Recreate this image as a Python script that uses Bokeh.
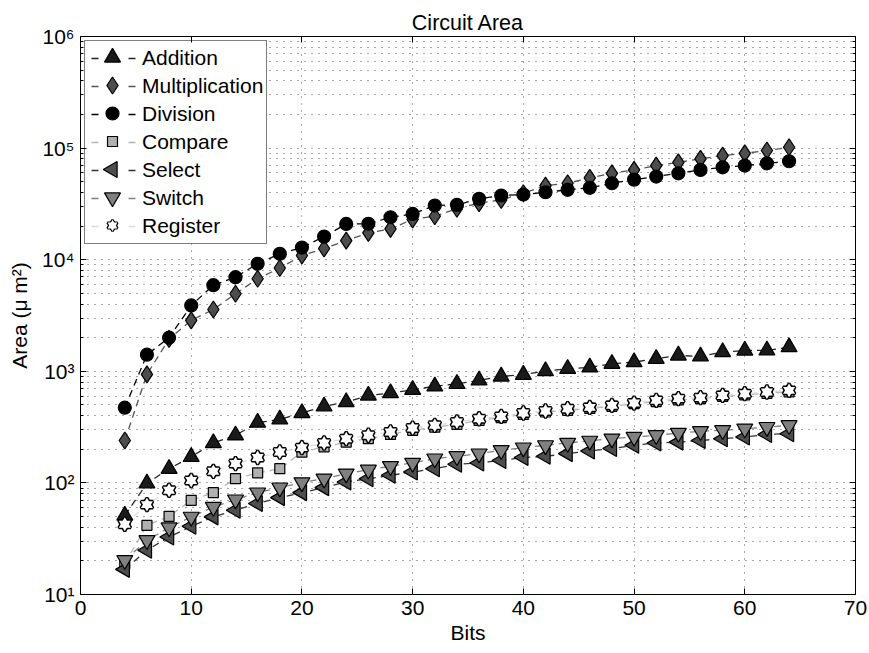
import math
from bokeh.plotting import figure
from bokeh.models import (Range1d, FixedTicker, CustomJSTickFormatter, LinearAxis,
                          LogAxis, Legend, LegendItem)
from bokeh.embed import file_html
from bokeh.resources import INLINE

# ---------------- data ----------------
bits = list(range(4, 65, 2))

addition = [51, 99, 134, 171, 228, 267, 347, 371, 423, 485, 530, 608, 638, 684, 733,
            774, 829, 900, 933, 1005, 1055, 1085, 1170, 1209, 1296, 1388, 1360, 1486,
            1538, 1540, 1648]
multiplication = [240, 938, 1950, 2860, 3580, 4950, 6750, 8420, 10900, 12600, 14800,
                  17400, 18900, 23000, 24500, 28600, 32100, 34400, 39400, 46100, 48400,
                  54100, 59400, 63800, 69700, 74600, 80000, 85700, 89800, 95100, 101700]
division = [472, 1409, 2000, 3890, 5910, 6970, 9200, 11300, 12850, 16100, 20900, 21000,
            24000, 25700, 30600, 31000, 35100, 37600, 38400, 40200, 42300, 44100, 48400,
            52200, 55600, 59400, 63800, 67300, 69700, 73100, 76200]
compare = [19, 41.7, 50.2, 69.8, 81.8, 109, 123, 134, 189, 210, 232, 249, 272, 296, 316,
           335, 363, 384, 411, 432, 447, 465, 485, 513, 535, 555, 570, 595, 615, 635, 655]
select = [16.8, 24.9, 32.8, 40.8, 49.6, 56.9, 65.3, 73.8, 81.8, 90.7, 102, 109, 117, 125,
          134, 147, 151, 159, 169, 173, 183, 193, 203, 217, 228, 232, 240, 249, 258, 272,
          276]
switch = [20.3, 30.6, 39.8, 49.6, 60.8, 70.8, 81.8, 90.7, 101, 109, 121, 131, 141, 151,
          165, 173, 183, 196, 207, 217, 228, 238, 249, 258, 267, 280, 290, 296, 306, 316,
          328]
register = [42.6, 63.9, 85.9, 105, 127, 149, 169, 189, 207, 228, 249, 267, 286, 310, 328,
            351, 376, 394, 423, 441, 462, 475, 495, 519, 549, 569, 581, 608, 630, 652, 675]

labels = ["Addition", "Multiplication", "Division", "Compare", "Select", "Switch",
          "Register"]

x_ticks = [0, 10, 20, 30, 40, 50, 60, 70]
y_ticks = [1e1, 1e2, 1e3, 1e4, 1e5, 1e6]
y_minor = [k * 10 ** e for e in range(1, 6) for k in range(2, 10)]

FONT = "Liberation Sans"
FS = "21px"
DASH = "7 5"
X0, X1 = 0, 70
LOG_Y0, LOG_Y1 = 1, 6
FRAME_W, FRAME_H = 775, 558

p = figure(width=869, height=653, x_range=Range1d(X0, X1),
           y_range=Range1d(10 ** LOG_Y0, 10 ** LOG_Y1),
           y_axis_type="log", output_backend="svg", toolbar_location=None,
           min_border_left=80, min_border_right=14, min_border_top=36,
           min_border_bottom=59, title="Circuit Area")

p.title.align = "center"
p.title.text_font = FONT
p.title.text_font_size = "21.5px"
p.title.text_font_style = "normal"
p.title.text_color = "black"
p.title.standoff = 4

p.background_fill_color = "white"
p.border_fill_color = "white"
p.outline_line_color = "black"
p.outline_line_width = 1

xt = FixedTicker(ticks=x_ticks)
yt = FixedTicker(ticks=y_ticks, minor_ticks=y_minor)

sup_fmt = CustomJSTickFormatter(code="""
const sup = {'0':'\u2070','1':'\u00b9','2':'\u00b2','3':'\u00b3','4':'\u2074','5':'\u2075','6':'\u2076','7':'\u2077','8':'\u2078','9':'\u2079','-':'\u207b'};
const e = Math.round(Math.log10(tick));
return '10' + String(e).split('').map(c => sup[c]).join('');
""")
empty_fmt = CustomJSTickFormatter(code="return '';")

for ax in p.xaxis:
    ax.ticker = xt
for ax in p.yaxis:
    ax.ticker = yt
    ax.formatter = sup_fmt

for ax in list(p.xaxis) + list(p.yaxis):
    ax.major_tick_in = 6
    ax.major_tick_out = 0
    ax.minor_tick_in = 3
    ax.minor_tick_out = 0
    ax.axis_line_color = "black"
    ax.major_tick_line_color = "black"
    ax.minor_tick_line_color = "black"
    ax.major_label_text_font = FONT
    ax.major_label_text_font_size = FS
    ax.major_label_text_color = "black"
    ax.axis_label_text_font = FONT
    ax.axis_label_text_font_size = FS
    ax.axis_label_text_font_style = "normal"
    ax.axis_label_text_color = "black"
    ax.major_label_standoff = 6

p.xaxis.axis_label = "Bits"
p.xaxis.axis_label_standoff = 3
p.yaxis.axis_label = "Area (\u03bc m\u00b2)"
p.yaxis.axis_label_standoff = 8

top_ax = LinearAxis(ticker=xt, formatter=empty_fmt, major_tick_in=6, major_tick_out=0,
                    minor_tick_out=0, minor_tick_in=0, axis_line_color="black")
right_ax = LogAxis(ticker=yt, formatter=empty_fmt, major_tick_in=6, major_tick_out=0,
                   minor_tick_in=3, minor_tick_out=0, axis_line_color="black")
p.add_layout(top_ax, "above")
p.add_layout(right_ax, "right")

GRID = "#505050"
p.xgrid.ticker = xt
p.ygrid.ticker = yt
p.xgrid.grid_line_color = GRID
p.xgrid.grid_line_dash = "1 6"
p.ygrid.grid_line_color = GRID
p.ygrid.grid_line_dash = "1 6"
p.ygrid.minor_grid_line_color = GRID
p.ygrid.minor_grid_line_dash = "1 6"

# ---------------- legend geometry (screen px inside the frame) ----------------
LEG_MARGIN = 4
LEG_PAD = 3
LEG_GLYPH_W = 50
LEG_ITEM_H = 28
LEG_BOX_W = 183


def px_to_data(xp, yp):
    """frame pixel offsets (from top-left) -> data coordinates"""
    return (X0 + xp * (X1 - X0) / FRAME_W,
            10 ** (LOG_Y1 - yp * (LOG_Y1 - LOG_Y0) / FRAME_H))


# white legend background (drawn above the grid, below the legend keys)
bl = px_to_data(LEG_MARGIN - 1, LEG_MARGIN + 2 * LEG_PAD + LEG_ITEM_H * len(labels) + 1)
tr = px_to_data(LEG_MARGIN + LEG_BOX_W + 1, LEG_MARGIN - 1)
p.quad(left=[bl[0]], right=[tr[0]], bottom=[bl[1]], top=[tr[1]],
       fill_color="white", line_color=None)

# ---------------- series styles ----------------
styles = {
    "Addition":       dict(line="#222222", marks=[dict(marker="triangle", size=16, fill_color="#1a1a1a", line_color="black", line_width=1.2)]),
    "Multiplication": dict(line="#555555", marks=[dict(marker="diamond", size=17, fill_color="#4d4d4d", line_color="black", line_width=1.2)]),
    "Division":       dict(line="#000000", marks=[dict(marker="circle", size=13, fill_color="#000000", line_color="black", line_width=1.2)]),
    "Compare":        dict(line="#b5b5b5", marks=[dict(marker="square", size=10, fill_color="#b0b0b0", line_color="black", line_width=1.2)]),
    "Select":         dict(line="#333333", marks=[dict(marker="triangle", size=16, fill_color="#4d4d4d", line_color="black", line_width=1.2, angle=math.pi / 2)]),
    "Switch":         dict(line="#808080", marks=[dict(marker="inverted_triangle", size=16, fill_color="#808080", line_color="black", line_width=1.2)]),
    # hexagram = two overlapping triangles: outlines first, then white fills
    "Register":       dict(line="#dcdcdc", marks=[
        dict(marker="triangle", size=12, fill_color=None, line_color="black", line_width=3.0),
        dict(marker="inverted_triangle", size=12, fill_color=None, line_color="black", line_width=3.0),
        dict(marker="triangle", size=12, fill_color="white", line_color=None),
        dict(marker="inverted_triangle", size=12, fill_color="white", line_color=None),
    ]),
}
values = {"Addition": addition, "Multiplication": multiplication, "Division": division,
          "Compare": compare, "Select": select, "Switch": switch, "Register": register}

items = []
for i, lab in enumerate(labels):
    st = styles[lab]
    ys = values[lab]
    p.line(bits, ys, line_color=st["line"], line_width=1.3, line_dash=DASH)
    for mk in st["marks"]:
        p.scatter(bits, ys, **mk)
    # legend sample line (a single-point line draws nothing in the plot):
    # one dash on either side of the key marker
    key_line = p.line(bits[:1], ys[:1], line_color=st["line"], line_width=1.3,
                      line_dash="7 30", line_dash_offset=34)
    items.append(LegendItem(label=lab, renderers=[key_line]))
    # legend key marker (full size, honours the marker angle)
    kx, ky = px_to_data(LEG_MARGIN + LEG_PAD + LEG_GLYPH_W / 2,
                        LEG_MARGIN + LEG_PAD + LEG_ITEM_H * i + LEG_ITEM_H / 2)
    for mk in st["marks"]:
        mk = dict(mk)
        if lab == "Register":
            mk["size"] = 10
            if mk["line_color"] is not None:
                mk["line_width"] = 2.4
        p.scatter([kx], [ky], **mk)

legend = Legend(items=items, location="top_left")
legend.label_text_font = FONT
legend.label_text_font_size = FS
legend.label_text_color = "black"
legend.glyph_width = LEG_GLYPH_W
legend.glyph_height = LEG_ITEM_H
legend.label_height = 22
legend.spacing = 0
legend.padding = LEG_PAD
legend.margin = LEG_MARGIN
legend.label_standoff = 4
legend.border_line_color = "black"
legend.border_line_width = 1
legend.background_fill_alpha = 0.0
p.add_layout(legend)

open("out.html", "w").write(file_html(p, INLINE))
